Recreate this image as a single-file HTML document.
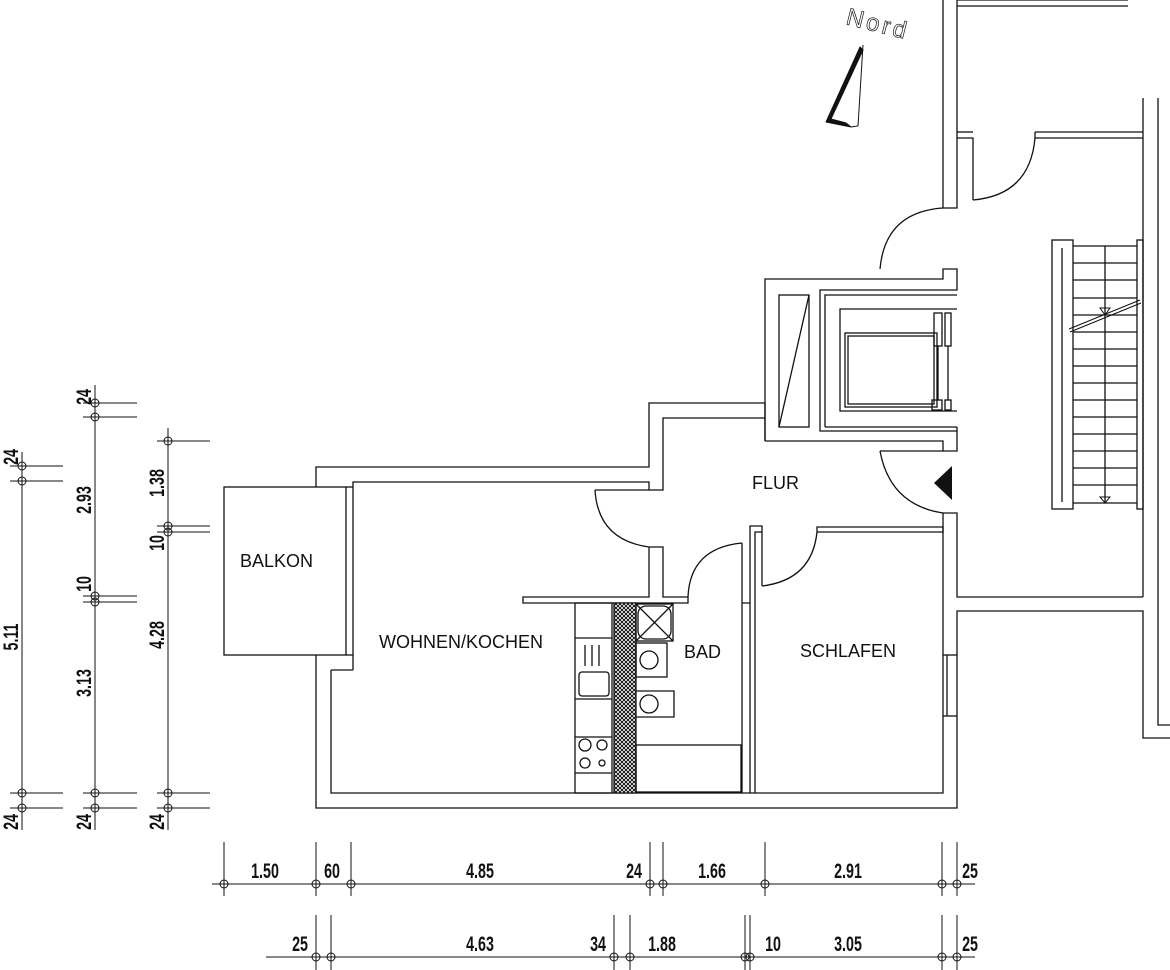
<!DOCTYPE html>
<html><head><meta charset="utf-8"><style>
html,body{margin:0;padding:0;background:#fff;}
svg{display:block}
.t{font-family:"Liberation Sans",sans-serif;font-size:18px;fill:#111}
.d{font-family:"Liberation Sans",sans-serif;font-size:21px;font-weight:bold;fill:#111}
</style></head><body>
<svg width="1170" height="970" viewBox="0 0 1170 970" xmlns="http://www.w3.org/2000/svg">
<defs>
<pattern id="h" width="4" height="4" patternUnits="userSpaceOnUse">
<rect width="4" height="4" fill="#fff"/><path d="M0 0L4 4M4 0L0 4" stroke="#000" stroke-width="0.9"/>
</pattern>
</defs>
<g fill="none" stroke="#111" stroke-width="1.3">
<polyline points="316,487 316,467 649,467 649,403 765,403 765,441"/>
<polyline points="353,670 353,482 649,482 649,490 663,490 663,418 765,418"/>
<polyline points="316,655 316,808 957,808 957,611 1143,611 1143,738 1170,738"/>
<polyline points="331,670 353,670"/>
<polyline points="331,670 331,793 943,793 943,513"/>
<line x1="943" y1="655" x2="957" y2="655"/><line x1="943" y1="716" x2="957" y2="716"/><line x1="947" y1="655" x2="947" y2="716"/>
<rect x="224" y="487" width="122" height="168"/>
<line x1="346" y1="487" x2="353" y2="487"/><line x1="346" y1="655" x2="353" y2="655"/>
<path d="M595,490 L649,490"/>
<path d="M595,490 Q598,540 649,547"/>
<polyline points="649,547 663,547 663,597 688,597 688,603 523,603 523,597 649,597 649,547"/>
<path d="M688,597 Q690,548 742,543"/>
<polyline points="742,543 742,603 742,793"/>
<polyline points="750,793 750,603 742,603"/>
<polyline points="750,603 750,526 762,526 762,532 755,532 755,793"/>
<path d="M762,586 Q812,580 817,532"/>
<line x1="762" y1="532" x2="762" y2="586"/>
<polyline points="817,532 817,527 943,527 943,532 817,532"/>
<polyline points="943,513 957,513 957,597 1143,597"/>
<path d="M880,451 Q890,505 943,513"/>
<polyline points="880,451 943,451 943,441 765,441"/>
<polyline points="943,451 957,451 957,427"/>
<polyline points="765,441 765,279 943,279 943,269 957,269 957,290 820,290 820,431 957,431"/>
<polyline points="825,427 825,295 957,295"/>
<polyline points="957,309 840,309 840,411 957,411"/>
<line x1="825" y1="427" x2="957" y2="427"/>
<rect x="779" y="295" width="30" height="132"/>
<line x1="809" y1="295" x2="779" y2="427"/>
<rect x="845" y="333" width="92" height="74"/>
<rect x="848" y="336" width="86" height="68"/>
<rect x="934" y="313" width="8" height="33"/><rect x="945" y="313" width="6" height="33"/>
<rect x="932" y="400" width="10" height="10"/><rect x="945" y="400" width="6" height="10"/>
<line x1="938" y1="346" x2="938" y2="400"/><line x1="948" y1="346" x2="948" y2="400"/>
<path d="M880,269 Q885,212 943,208"/>
<polyline points="943,0 943,208 957,208 957,0"/>
<polyline points="957,138 973,138 973,200"/>
<line x1="957" y1="132" x2="973" y2="132"/>
<path d="M973,200 Q1030,195 1035,138"/>
<polyline points="1035,132 1143,132"/>
<polyline points="1035,138 1143,138"/>
<line x1="1035" y1="132" x2="1035" y2="138"/>
<line x1="957" y1="0" x2="1128" y2="0"/><line x1="957" y1="6" x2="1128" y2="6"/>
<polyline points="1143,98 1143,597"/>
<polyline points="1158,98 1158,725 1170,725"/>
<rect x="1052" y="240" width="21" height="269"/>
<line x1="1062" y1="248" x2="1062" y2="502"/>
<rect x="1137" y="240" width="6" height="269"/>
<line x1="1105" y1="246" x2="1105" y2="503"/>
<line x1="1073" y1="246" x2="1137" y2="246"/><line x1="1073" y1="263" x2="1137" y2="263"/><line x1="1073" y1="280" x2="1137" y2="280"/><line x1="1073" y1="298" x2="1137" y2="298"/><line x1="1073" y1="315" x2="1137" y2="315"/><line x1="1073" y1="332" x2="1137" y2="332"/><line x1="1073" y1="349" x2="1137" y2="349"/><line x1="1073" y1="366" x2="1137" y2="366"/><line x1="1073" y1="383" x2="1137" y2="383"/><line x1="1073" y1="400" x2="1137" y2="400"/><line x1="1073" y1="417" x2="1137" y2="417"/><line x1="1073" y1="434" x2="1137" y2="434"/><line x1="1073" y1="451" x2="1137" y2="451"/><line x1="1073" y1="468" x2="1137" y2="468"/><line x1="1073" y1="485" x2="1137" y2="485"/><line x1="1073" y1="503" x2="1137" y2="503"/>
<line x1="1069" y1="329" x2="1140" y2="300" stroke-width="1"/><line x1="1070" y1="332" x2="1141" y2="303" stroke-width="1"/>
<path d="M1100,308 L1110,308 L1105,315 Z" stroke-width="1"/><path d="M1100,497 L1110,497 L1105,503 Z" stroke-width="1"/>
<rect x="575" y="603" width="37" height="190"/>
<line x1="575" y1="638" x2="612" y2="638"/><line x1="575" y1="699" x2="612" y2="699"/><line x1="575" y1="737" x2="612" y2="737"/><line x1="575" y1="773" x2="612" y2="773"/>
<rect x="579" y="672" width="30" height="24" rx="3"/>
<line x1="585" y1="645" x2="585" y2="666"/><line x1="592" y1="645" x2="592" y2="666"/><line x1="599" y1="645" x2="599" y2="666"/>
<circle cx="585" cy="745" r="6"/><circle cx="602" cy="745" r="5"/><circle cx="585" cy="763" r="5"/><circle cx="602" cy="763" r="3"/>
<rect x="614" y="603" width="22" height="190" fill="url(#h)"/>
<rect x="636" y="604" width="37" height="37"/>
<rect x="638" y="606" width="33" height="33" rx="8"/>
<line x1="636" y1="604" x2="673" y2="641"/><line x1="673" y1="604" x2="636" y2="641"/>
<rect x="636" y="643" width="31" height="34"/><circle cx="649" cy="660" r="9"/>
<polyline points="636,691 674,691 674,717 636,717"/><circle cx="649" cy="704" r="9"/>
<rect x="636" y="745" width="105" height="47"/>
<polygon points="860,47 826,122 851,127 846,123 831,119 863,50" fill="#111" stroke-width="1"/>
<polyline points="863,45 858,126 851,127" stroke-width="1"/>
</g>
<polygon points="934,483 952,466 952,500" fill="#111"/>
<text class="t" x="240" y="567">BALKON</text>
<text class="t" x="379" y="648">WOHNEN/KOCHEN</text>
<text class="t" x="684" y="658">BAD</text>
<text class="t" x="800" y="657">SCHLAFEN</text>
<text class="t" x="752" y="489">FLUR</text>
<text x="845" y="24" font-family="Liberation Sans,sans-serif" font-size="24" fill="none" stroke="#111" stroke-width="0.7" transform="rotate(14 845 24)" letter-spacing="3">Nord</text>
<g stroke="#111" stroke-width="1" fill="none">
<line x1="22" y1="452" x2="22" y2="830"/>
<line x1="10" y1="466" x2="63" y2="466"/><line x1="10" y1="481" x2="63" y2="481"/><line x1="10" y1="793" x2="63" y2="793"/><line x1="10" y1="808" x2="63" y2="808"/>
<circle cx="22" cy="466" r="4"/><circle cx="22" cy="481" r="4"/><circle cx="22" cy="793" r="4"/><circle cx="22" cy="808" r="4"/>
<line x1="95" y1="385" x2="95" y2="830"/>
<line x1="83" y1="403" x2="137" y2="403"/><line x1="83" y1="417" x2="137" y2="417"/><line x1="83" y1="596" x2="137" y2="596"/><line x1="83" y1="602" x2="137" y2="602"/><line x1="83" y1="793" x2="137" y2="793"/><line x1="83" y1="808" x2="137" y2="808"/>
<circle cx="95" cy="403" r="4"/><circle cx="95" cy="417" r="4"/><circle cx="95" cy="596" r="4"/><circle cx="95" cy="602" r="4"/><circle cx="95" cy="793" r="4"/><circle cx="95" cy="808" r="4"/>
<line x1="168" y1="428" x2="168" y2="830"/>
<line x1="157" y1="441" x2="210" y2="441"/><line x1="157" y1="526" x2="210" y2="526"/><line x1="157" y1="532" x2="210" y2="532"/><line x1="157" y1="793" x2="210" y2="793"/><line x1="157" y1="808" x2="210" y2="808"/>
<circle cx="168" cy="441" r="4"/><circle cx="168" cy="526" r="4"/><circle cx="168" cy="532" r="4"/><circle cx="168" cy="793" r="4"/><circle cx="168" cy="808" r="4"/>
<line x1="212" y1="884" x2="975" y2="884"/>
<line x1="224" y1="842" x2="224" y2="896"/><line x1="316" y1="842" x2="316" y2="896"/><line x1="351" y1="842" x2="351" y2="896"/><line x1="650" y1="842" x2="650" y2="896"/><line x1="663" y1="842" x2="663" y2="896"/><line x1="765" y1="842" x2="765" y2="896"/><line x1="942" y1="842" x2="942" y2="896"/><line x1="957" y1="842" x2="957" y2="896"/>
<circle cx="224" cy="884" r="4"/><circle cx="316" cy="884" r="4"/><circle cx="351" cy="884" r="4"/><circle cx="650" cy="884" r="4"/><circle cx="663" cy="884" r="4"/><circle cx="765" cy="884" r="4"/><circle cx="942" cy="884" r="4"/><circle cx="957" cy="884" r="4"/>
<line x1="266" y1="957" x2="975" y2="957"/>
<line x1="316" y1="915" x2="316" y2="970"/><line x1="331" y1="915" x2="331" y2="970"/><line x1="614" y1="915" x2="614" y2="970"/><line x1="630" y1="915" x2="630" y2="970"/><line x1="745" y1="915" x2="745" y2="970"/><line x1="750" y1="915" x2="750" y2="970"/><line x1="942" y1="915" x2="942" y2="970"/><line x1="957" y1="915" x2="957" y2="970"/>
<circle cx="316" cy="957" r="4"/><circle cx="331" cy="957" r="4"/><circle cx="614" cy="957" r="4"/><circle cx="630" cy="957" r="4"/><circle cx="745" cy="957" r="4"/><circle cx="750" cy="957" r="4"/><circle cx="942" cy="957" r="4"/><circle cx="957" cy="957" r="4"/>
</g>
<g class="d">
<text transform="translate(18,457) rotate(-90) scale(0.68,1)" text-anchor="middle">24</text>
<text transform="translate(18,637) rotate(-90) scale(0.68,1)" text-anchor="middle">5.11</text>
<text transform="translate(18,822) rotate(-90) scale(0.68,1)" text-anchor="middle">24</text>
<text transform="translate(91,397) rotate(-90) scale(0.68,1)" text-anchor="middle">24</text>
<text transform="translate(91,500) rotate(-90) scale(0.68,1)" text-anchor="middle">2.93</text>
<text transform="translate(91,584) rotate(-90) scale(0.68,1)" text-anchor="middle">10</text>
<text transform="translate(91,683) rotate(-90) scale(0.68,1)" text-anchor="middle">3.13</text>
<text transform="translate(91,822) rotate(-90) scale(0.68,1)" text-anchor="middle">24</text>
<text transform="translate(164,483) rotate(-90) scale(0.68,1)" text-anchor="middle">1.38</text>
<text transform="translate(164,543) rotate(-90) scale(0.68,1)" text-anchor="middle">10</text>
<text transform="translate(164,635) rotate(-90) scale(0.68,1)" text-anchor="middle">4.28</text>
<text transform="translate(164,822) rotate(-90) scale(0.68,1)" text-anchor="middle">24</text>
<text transform="translate(265,878) scale(0.68,1)" text-anchor="middle">1.50</text>
<text transform="translate(332,878) scale(0.68,1)" text-anchor="middle">60</text>
<text transform="translate(480,878) scale(0.68,1)" text-anchor="middle">4.85</text>
<text transform="translate(634,878) scale(0.68,1)" text-anchor="middle">24</text>
<text transform="translate(712,878) scale(0.68,1)" text-anchor="middle">1.66</text>
<text transform="translate(848,878) scale(0.68,1)" text-anchor="middle">2.91</text>
<text transform="translate(970,878) scale(0.68,1)" text-anchor="middle">25</text>
<text transform="translate(300,951) scale(0.68,1)" text-anchor="middle">25</text>
<text transform="translate(480,951) scale(0.68,1)" text-anchor="middle">4.63</text>
<text transform="translate(598,951) scale(0.68,1)" text-anchor="middle">34</text>
<text transform="translate(662,951) scale(0.68,1)" text-anchor="middle">1.88</text>
<text transform="translate(773,951) scale(0.68,1)" text-anchor="middle">10</text>
<text transform="translate(848,951) scale(0.68,1)" text-anchor="middle">3.05</text>
<text transform="translate(970,951) scale(0.68,1)" text-anchor="middle">25</text>
</g>
</svg>
</body></html>
